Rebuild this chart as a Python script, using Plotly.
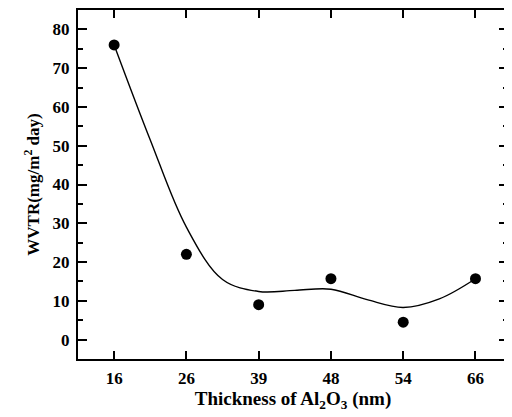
import plotly.graph_objects as go

categories = ["16", "26", "39", "48", "54", "66"]
wvtr = [76.0, 22.0, 9.0, 15.7, 4.5, 15.7]

# fitted curve, at category positions 0, 0.5, ..., 5
curve_pos = [0, 0.5, 1, 1.5, 2, 2.5, 3, 3.5, 4, 4.5, 5]
curve_val = [76.0, 51.5, 29.0, 15.5, 12.4, 12.7, 13.0, 10.3, 8.3, 10.5, 15.7]

font = dict(family="Liberation Serif", size=17, color="black")

fig = go.Figure()
fig.add_trace(go.Scatter(x=curve_pos, y=curve_val, mode="lines",
                         line=dict(color="black", width=1.4, shape="spline", smoothing=1.0),
                         hoverinfo="skip", showlegend=False))
fig.add_trace(go.Scatter(x=list(range(len(categories))), y=wvtr, mode="markers",
                         marker=dict(color="black", size=11), showlegend=False))

# page body has an 8px margin, so the figure is sized to fill the rest of the window
fig.update_layout(
    width=504, height=409,
    margin=dict(l=70, r=4, t=2, b=58),
    plot_bgcolor="white", paper_bgcolor="white",
    font=font,
)
fig.update_xaxes(
    range=[-0.5, 5.45], tickmode="array", tickvals=list(range(len(categories))), ticktext=[f"<b>{c}</b>" for c in categories],
    ticks="inside", ticklen=8, tickwidth=2, tickcolor="black", ticklabelstandoff=3,
    showline=True, linewidth=2, linecolor="black", mirror="allticks",
    showgrid=False, zeroline=False, automargin=False,
    title=dict(text="<b>Thickness of Al<sub>2</sub>O<sub>3</sub> (nm)</b>", standoff=3,
               font=dict(family="Liberation Serif", size=19, color="black")),
)
fig.update_yaxes(
    range=[-5, 85], tickmode="array", tickvals=[0, 10, 20, 30, 40, 50, 60, 70, 80],
    ticktext=[f"<b>{v}</b>" for v in [0, 10, 20, 30, 40, 50, 60, 70, 80]],
    ticks="inside", ticklen=9, tickwidth=2, tickcolor="black", ticklabelstandoff=3,
    minor=dict(tickvals=[-5, 5, 15, 25, 35, 45, 55, 65, 75, 85], ticks="inside", ticklen=5, tickwidth=2, tickcolor="black"),
    showline=True, linewidth=2, linecolor="black", mirror="allticks",
    showgrid=False, zeroline=False, automargin=False,
    title=dict(text="<b>WVTR(mg/m<sup>2</sup> day)</b>", standoff=9,
               font=dict(family="Liberation Serif", size=17, color="black")),
)

fig.write_html("out.html")
